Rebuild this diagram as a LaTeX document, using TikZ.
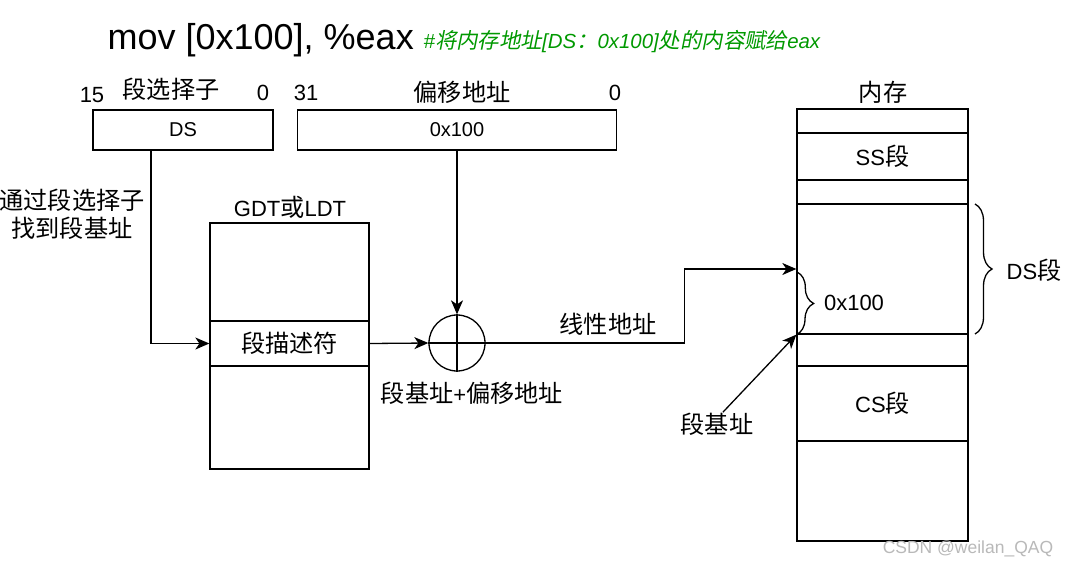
\documentclass[tikz,border=0pt]{standalone}
\usepackage{fontspec}
\setmainfont{Liberation Sans}
\newfontfamily\zh[Scale=1.1]{Noto Sans CJK SC}
\newfontfamily\zhit[Scale=1.05,FakeSlant=0.2]{Noto Sans CJK SC}
\usetikzlibrary{arrows.meta,decorations.pathreplacing,calc}
\definecolor{cmt}{RGB}{0,153,0}
\begin{document}
\begin{tikzpicture}[x=1pt,y=-1pt,line width=1.3pt,
  box/.style={draw,inner sep=0,line width=1.3pt},
  lbl/.style={inner sep=0,font=\fontsize{22}{26}\selectfont},
  boxtxt/.style={inner sep=0,font=\fontsize{20}{24}\selectfont},
  arr/.style={-{Stealth[length=14pt,width=12pt,inset=4pt]}},
  brc/.style={decorate,decoration={brace,amplitude=17pt}}]
\fill[white] (0,0) rectangle (1071,568);
\useasboundingbox (0,0) rectangle (1071,568);
% title
\node[inner sep=0,anchor=base west,font=\fontsize{36}{40}\selectfont] (title) at (107,49) {mov [0x100], \%eax};
\node[inner sep=0,anchor=base west,text=cmt,font=\fontsize{20.4}{24}\selectfont\itshape] (comment) at (423,48) {\#{\zhit 将内存地址}[DS{\zhit ：}0x100]{\zhit 处的内容赋给}eax};
% selector and offset
\node[box,boxtxt,minimum width=180pt,minimum height=40pt] (sel) at (183,130) {DS};
\node[box,boxtxt,minimum width=319pt,minimum height=40pt] (off) at (457,130) {0x100};
\node[lbl] (selt) at (171,89) {\zh 段选择子};
\node[lbl] (n15) at (92,95) {15};
\node[lbl] (n0a) at (263,93) {0};
\node[lbl] (n31) at (306,93) {31};
\node[lbl] (offt) at (462,92) {\zh 偏移地址};
\node[lbl] (n0b) at (615,93) {0};
% GDT
\node[box,minimum width=159pt,minimum height=246pt] (gdt) at (289.5,346) {};
\node[box,lbl,minimum width=159pt,minimum height=45pt] (desc) at (289.5,343.5) {\zh 段描述符};
\node[lbl] (gdtt) at (290,207) {GDT{\zh 或}LDT};
\node[inner sep=0,align=center,font=\fontsize{22}{28}\selectfont\zh] (find) at (72,214) {通过段选择子\\找到段基址};
% adder
\node[circle,draw,minimum size=56pt,inner sep=0] (sum) at (457,343) {};
\draw (sum.north) -- (sum.south) (sum.west) -- (sum.east);
\node[lbl] (sumt) at (472,393) {{\zh 段基址}+{\zh 偏移地址}};
\node[lbl] (lin) at (608,324) {\zh 线性地址};
% memory
\node[box,minimum width=171pt,minimum height=432pt] (mem) at (882.5,325) {};
\node[box,lbl,minimum width=171pt,minimum height=47pt] (ss) at (882.5,156.5) {SS{\zh 段}};
\node[box,minimum width=171pt,minimum height=130pt] (ds) at (882.5,269) {};
\node[box,lbl,minimum width=171pt,minimum height=75pt] (cs) at (882.5,403.5) {CS{\zh 段}};
\node[lbl] (memt) at (883,92) {\zh 内存};
% braces
\coordinate (b1) at (975,204);
\coordinate (b2) at (975,334);
\draw[brc] (b1) -- (b2);
\node[lbl,anchor=west] (dst) at (1006,270) {DS{\zh 段}};
\coordinate (o1) at (797,272);
\draw[brc] (o1) -- (ds.south west);
\node[lbl] (offl) at (854,303) {0x100};
% arrows
\draw[arr] ([xshift=-32pt]sel.south) |- (desc.west);
\draw[arr] (off.south) -- (sum.north);
\draw[arr] (desc.east) -- (sum.west);
\draw[arr] (sum.east) -- ++(199,0) |- (ds.west);
\node[lbl] (jz) at (717,424) {\zh 段基址};
\draw[arr] ([xshift=6pt]jz.north) -- (ds.south west);
% watermark
\node[inner sep=0,text=gray!55,font=\fontsize{17.5}{20}\selectfont] (wm) at (968,549) {CSDN @weilan\_QAQ};
\end{tikzpicture}
\end{document}
